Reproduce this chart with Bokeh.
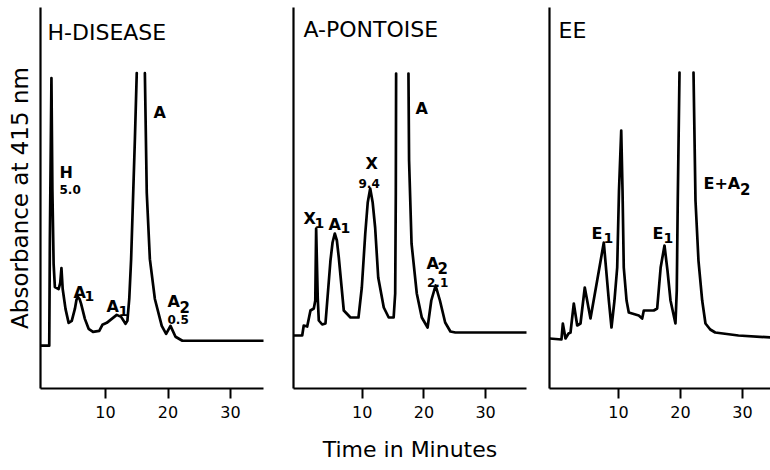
import numpy as np
from bokeh.plotting import figure
from bokeh.layouts import row
from bokeh.models import Range1d, FixedTicker, Label
from bokeh.embed import file_html
from bokeh.resources import INLINE

NAN = float("nan")

# ---- data (time in minutes, absorbance in arbitrary units) ----
tick_values = [10, 20, 30]

h_time = [-0.3, 1.0, 1.1, 1.35, 1.5, 1.7, 1.9, 2.5, 2.75, 2.95, 3.15, 3.6, 4.1, 4.6, 5.1,
          5.35, 5.6, 5.85, 6.1, 6.7, 7.3, 8.0, 9.0, 9.5, 10.2, 11.0, 11.8, 12.5, 13.2,
          13.5, 13.8, 14.1, 14.4, 14.7, 15.0, NAN, 16.3, 16.6, 17.1, 17.9, 19.0, 19.7,
          20.4, 21.2, 22.3, 35.3]
h_abs = [43, 43, 150, 312, 200, 125, 102, 100, 106, 121, 100, 80, 66, 68, 80,
         89, 92, 90, 85, 70, 60, 57, 58, 64, 66, 70, 74, 72, 65,
         68, 90, 130, 190, 250, 317, NAN, 317, 197, 130, 90, 63, 55,
         63, 52, 48, 48]

p_time = [-1.1, 0.28, 0.53, 1.09, 1.62, 2.16, 2.4, 2.54, 2.8, 2.97, 3.52, 4.05, 4.86,
          5.2, 5.56, 5.9, 6.21, 7.02, 8.1, 9.4, 9.94, 10.5, 10.9, 11.3, 11.7, 12.1, 12.6,
          13.5, 14.3, 15.1, 15.35, 15.45, 15.5, NAN, 17.5, 17.6, 18.0, 18.85, 19.66, 20.6,
          21.2, 21.9, 22.6, 23.45, 24.3, 25.1, 36.6]
p_abs = [53, 53, 63, 62, 78, 80, 88, 160, 90, 68, 64, 65, 128,
         146, 155, 148, 131, 78, 71, 71, 101, 155, 186, 200, 186, 161, 111,
         81, 71, 71, 95, 195, 315, NAN, 315, 228, 145, 95, 71, 61,
         88, 103, 88, 66, 57, 56, 56]

e_time = [-1.1, 0.8, 1.02, 1.45, 1.94, 2.26, 2.79, 3.34, 3.87, 4.56, 5.48, 6.56, 7.63,
          8.44, 8.87, 9.35, 9.79, 10.08, 10.44, 10.65, 10.85, 11.3, 11.66, 13.27, 13.82,
          14.08, 15.69, 16.24, 16.8, 17.42, 17.9, 18.39, 19.19, 19.4, 19.56, 19.84, NAN,
          22.1, 22.42, 22.9, 23.5, 24.03, 24.8, 25.6, 29.35, 34.5]
e_abs = [50, 49, 65, 50, 55, 56, 85, 63, 65, 101, 70, 108, 146,
         88, 61, 88, 121, 198, 258, 198, 121, 88, 76, 73, 70,
         78, 78, 80, 121, 143, 118, 88, 65, 98, 188, 316, NAN,
         316, 188, 128, 88, 65, 59, 56, 53, 51]

FONT = "DejaVu Sans"


def make_panel(width, b_left, b_right, b_bottom, x_rng, y_rng, t, a):
    p = figure(width=width, height=470, output_backend="svg", toolbar_location=None,
               x_range=Range1d(*x_rng), y_range=Range1d(*y_rng),
               min_border_left=b_left, min_border_right=b_right,
               min_border_top=7, min_border_bottom=b_bottom)
    p.outline_line_color = None
    p.grid.visible = False
    p.background_fill_color = "white"
    p.border_fill_color = "white"
    p.line(np.array(t, dtype=float), np.array(a, dtype=float), line_color="black",
           line_width=2.7, line_join="round", line_cap="round")
    xa = p.xaxis[0]
    xa.ticker = FixedTicker(ticks=tick_values)
    xa.minor_tick_line_color = None
    xa.major_tick_out = 10
    xa.major_tick_in = 0
    xa.major_tick_line_width = 2
    xa.major_tick_line_color = "black"
    xa.axis_line_width = 2.2
    xa.axis_line_color = "black"
    xa.major_label_text_font = FONT
    xa.major_label_text_font_size = "16px"
    xa.major_label_text_color = "black"
    xa.major_label_standoff = 7
    ya = p.yaxis[0]
    ya.ticker = FixedTicker(ticks=[])
    ya.minor_tick_line_color = None
    ya.major_tick_line_color = None
    ya.major_label_text_font_size = "0px"
    ya.axis_line_width = 2.2
    ya.axis_line_color = "black"
    return p


def lab(p, x, y, text, size, bold=True):
    p.add_layout(Label(x=x, y=y, text=text, text_font=FONT, text_font_size=size,
                       text_font_style="bold" if bold else "normal",
                       text_color="black", text_align="left", text_baseline="alphabetic"))


p1 = make_panel(275, 40, 12, 80, (-0.4, 35.28), (0, 383), h_time, h_abs)
p1.yaxis.axis_label = "Absorbance at 415 nm"
p1.yaxis.axis_label_text_font = FONT
p1.yaxis.axis_label_text_font_size = "23px"
p1.yaxis.axis_label_text_font_style = "normal"
p1.yaxis.axis_label_text_color = "black"
p1.yaxis.axis_label_standoff = 8
lab(p1, 0.72, 358, "H-DISEASE", "22px", bold=False)
lab(p1, 2.64, 217, "H", "16px")
lab(p1, 2.64, 200, "5.0", "12px")
lab(p1, 17.68, 277, "A", "16px")
lab(p1, 4.88, 97, "A", "16px")
lab(p1, 6.64, 93, "1", "14px")
lab(p1, 10.16, 82, "A", "16px")
lab(p1, 12.08, 78, "1", "14px")
lab(p1, 19.92, 87, "A", "16px")
lab(p1, 21.84, 82, "2", "15px")
lab(p1, 19.92, 69, "0.5", "12px")

p2 = make_panel(259, 18, 8, 82, (-1.13, 36.63), (0, 381), p_time, p_abs)
p2.xaxis.axis_label = "Time in Minutes"
p2.xaxis.axis_label_text_font = FONT
p2.xaxis.axis_label_text_font_size = "22px"
p2.xaxis.axis_label_text_font_style = "normal"
p2.xaxis.axis_label_text_color = "black"
p2.xaxis.axis_label_standoff = 16
lab(p2, 0.49, 359, "A-PONTOISE", "22px", bold=False)
lab(p2, 18.64, 280, "A", "16px")
lab(p2, 10.53, 225, "X", "16px")
lab(p2, 9.4, 205, "9.4", "12px")
lab(p2, 0.49, 170, "X", "16px")
lab(p2, 2.27, 166, "1", "14px")
lab(p2, 4.54, 164, "A", "16px")
lab(p2, 6.48, 161, "1", "14px")
lab(p2, 20.42, 125, "A", "16px")
lab(p2, 22.2, 121, "2", "15px")
lab(p2, 20.5, 106, "2.1", "12px")

p3 = make_panel(236, 15, 0, 82, (-1.13, 34.52), (0, 381), e_time, e_abs)
lab(p3, 0.32, 358, "EE", "22px", bold=False)
lab(p3, 23.71, 205, "E+A", "16px")
lab(p3, 29.6, 200, "2", "15px")
lab(p3, 5.65, 155, "E", "16px")
lab(p3, 7.58, 151, "1", "14px")
lab(p3, 15.48, 155, "E", "16px")
lab(p3, 17.26, 151, "1", "14px")

layout = row(p1, p2, p3)
open("out.html", "w").write(file_html(layout, INLINE))
